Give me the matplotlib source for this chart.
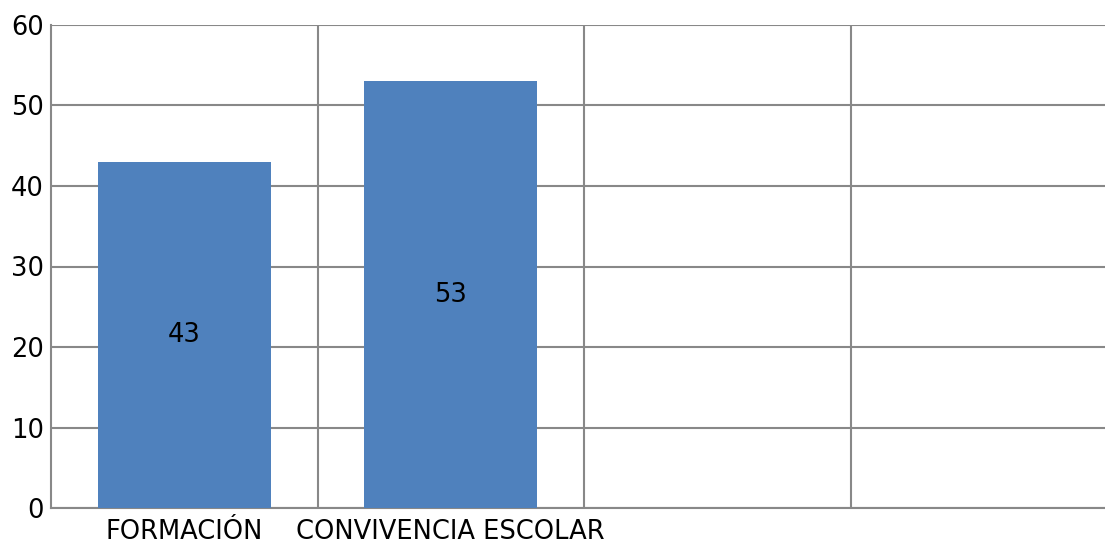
import matplotlib.pyplot as plt
import numpy as np

categories = ["FORMACIÓN", "CONVIVENCIA ESCOLAR", "", ""]
values = [43, 53]
y_ticks = [0, 10, 20, 30, 40, 50, 60]

fig = plt.figure(figsize=(11.05, 5.39), dpi=100)
# axes runs slightly past the right edge of the canvas
ax = fig.add_axes([51 / 1105, 1 - 508 / 539, (1117 - 51) / 1105, (508 - 25) / 539])

x = np.arange(len(categories))
bars = ax.bar(x[:len(values)], values, width=0.65, color="#4F81BD", zorder=3)
for b, v in zip(bars, values):
    ax.text(b.get_x() + b.get_width() / 2, v / 2, str(v), ha="center", va="center",
            fontsize=18.5, color="black", zorder=4)

ax.set_xlim(-0.5, len(categories) - 0.5)
ax.set_ylim(0, 60)
ax.set_yticks(y_ticks)
ax.set_xticks(x)
ax.set_xticklabels(categories)
ax.set_xticks(np.arange(len(categories)) + 0.5, minor=True)

grid_col = "#888888"
ax.yaxis.grid(True, color=grid_col, linewidth=1.5, zorder=0)
ax.xaxis.grid(True, which="minor", color=grid_col, linewidth=1.5, zorder=0)
ax.tick_params(axis="both", which="both", length=0, labelsize=18.5)
ax.tick_params(axis="x", pad=8)
ax.tick_params(axis="y", pad=5)
for side in ["top", "right"]:
    ax.spines[side].set_visible(False)
for side in ["left", "bottom"]:
    ax.spines[side].set_color(grid_col)
    ax.spines[side].set_linewidth(1.5)

fig.savefig("out.png", dpi=100)
